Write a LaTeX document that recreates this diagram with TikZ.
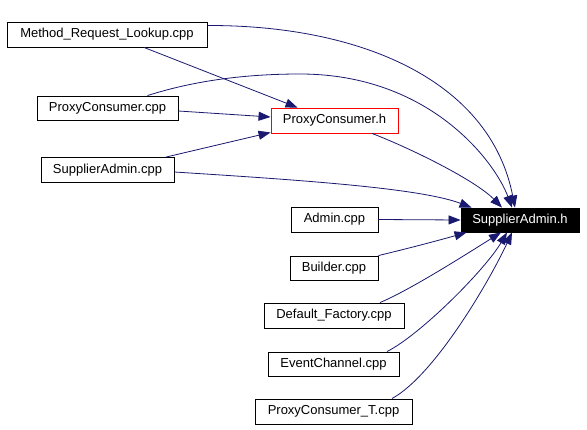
\documentclass[tikz,border=0pt]{standalone}
\usepackage{fontspec}
\setmainfont{Liberation Sans}
\usetikzlibrary{arrows.meta}
\definecolor{edgeblue}{RGB}{25,25,112}
\tikzset{
  box/.style={draw=black, line width=0.9pt, fill=white, inner sep=0pt, anchor=center,
    font=\fontsize{13}{15}\selectfont, text=black},
  redbox/.style={box, draw=red},
  blackbox/.style={box, fill=black, text=white},
  edge/.style={draw=edgeblue, line width=0.8pt, -{Triangle[length=12pt,width=9pt]}, fill=none},
}
\begin{document}
\begin{tikzpicture}[x=1pt,y=-1pt]
\useasboundingbox[fill=white] (0,0) rectangle (587,429);
\node[box, minimum width=200pt, minimum height=25pt] (mrl) at (107,34.5) {Method\_Request\_Lookup.cpp};
\node[box, minimum width=141pt, minimum height=24pt] (pccpp) at (107.5,108) {ProxyConsumer.cpp};
\node[box, minimum width=133pt, minimum height=25pt] (sacpp) at (107.5,170) {SupplierAdmin.cpp};
\node[redbox, minimum width=127pt, minimum height=25pt] (pch) at (334.5,120.5) {ProxyConsumer.h};
\node[blackbox, minimum width=118pt, minimum height=24pt] (sah) at (520,220) {SupplierAdmin.h};
\node[box, minimum width=87pt, minimum height=25pt] (admin) at (334.5,219.5) {Admin.cpp};
\node[box, minimum width=88pt, minimum height=24pt] (builder) at (334,268) {Builder.cpp};
\node[box, minimum width=140pt, minimum height=25pt] (df) at (334,315.5) {Default\_Factory.cpp};
\node[box, minimum width=131pt, minimum height=24pt] (ec) at (333.5,364) {EventChannel.cpp};
\node[box, minimum width=157pt, minimum height=25pt] (pct) at (333.5,411.5) {ProxyConsumer\_T.cpp};

% connectors
\draw[edge] ([yshift=9pt]mrl.east) .. controls (360,25) and (490,80) .. ([xshift=-5pt]sah.north);
\draw[edge] ([xshift=37pt]mrl.south) -- ([xshift=-37pt]pch.north);
\draw[edge] ([xshift=40pt]pccpp.north) .. controls (190,82) and (240,74) .. (300,74)
   .. controls (430,74) and (495,162) .. ([xshift=-8pt]sah.north);
\draw[edge] ([yshift=-3pt]pccpp.east) -- ([yshift=3.5pt]pch.west);
\draw[edge] ([xshift=58.5pt]sacpp.north) -- ([yshift=1pt]pch.south west);
\draw[edge] ([yshift=-2pt]sacpp.east) .. controls (300,180) and (420,188) .. ([xshift=11pt]sah.north west);
\draw[edge] ([xshift=37.5pt]pch.south) .. controls (410,148) and (475,180) .. ([xshift=-18pt]sah.north);
\draw[edge] (admin.east) -- (sah.west);
\draw[edge] (builder.north east) .. controls (410,248) and (440,240) .. ([xshift=6pt]sah.south west);
\draw[edge] ([xshift=46pt]df.north) .. controls (410,290) and (465,255) .. ([xshift=-19pt]sah.south);
\draw[edge] ([xshift=53.5pt]ec.north) .. controls (420,335) and (485,270) .. ([xshift=-13pt]sah.south);
\draw[edge] ([xshift=58.5pt]pct.north) .. controls (435,375) and (490,280) .. ([xshift=-8pt]sah.south);
\end{tikzpicture}
\end{document}
